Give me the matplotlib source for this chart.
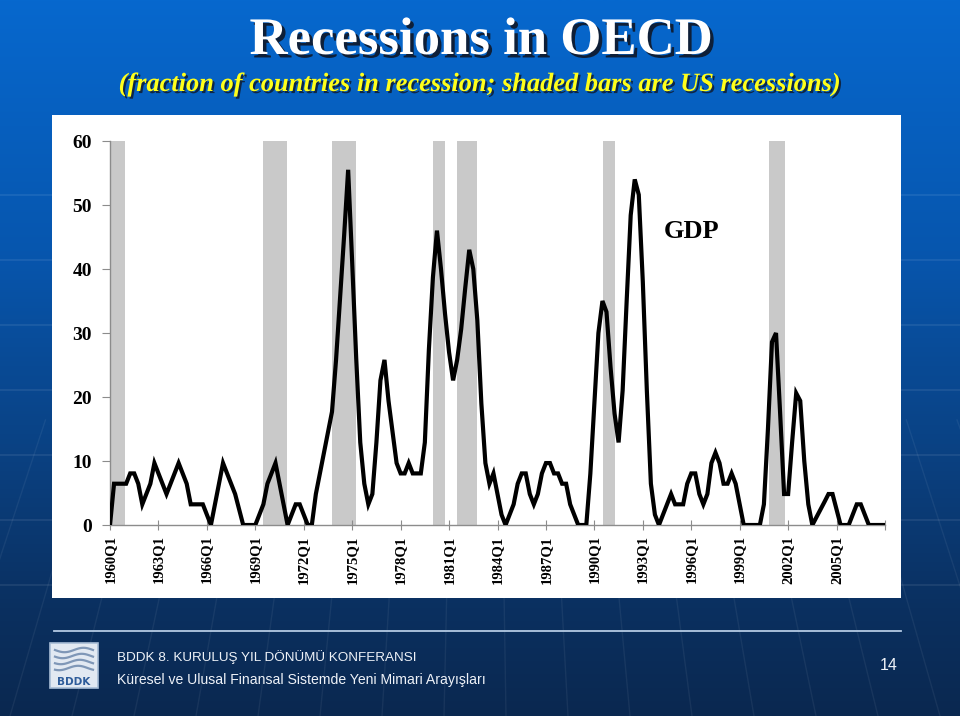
import numpy as np
import matplotlib
matplotlib.use('Agg')
import matplotlib.pyplot as plt
from matplotlib.patches import Rectangle
from matplotlib.colors import LinearSegmentedColormap
import matplotlib.patheffects as pe

# ---------------- data ----------------
start_year = 1960
# fraction (%) of OECD countries in recession, quarterly from 1960Q1 to 2008Q1
gdp = [
    0, 6.45, 6.45, 6.45, 6.45, 8.06, 8.06, 6.45, 3.23, 4.84,
    6.45, 9.68, 8.06, 6.45, 4.84, 6.45, 8.06, 9.68, 8.06, 6.45,
    3.23, 3.23, 3.23, 3.23, 1.61, 0, 3.23, 6.45, 9.68, 8.06,
    6.45, 4.84, 2.42, 0, 0, 0, 0, 1.61, 3.23, 6.45,
    8.06, 9.68, 6.45, 3.23, 0, 1.61, 3.23, 3.23, 1.61, 0,
    0, 4.84, 8.06, 11.3, 14.5, 17.7, 25.8, 35.5, 45.2, 55.5,
    41.0, 26.0, 12.9, 6.45, 3.23, 4.84, 12.9, 22.6, 25.8, 19.4,
    14.5, 9.68, 8.06, 8.06, 9.68, 8.06, 8.06, 8.06, 12.9, 27.4,
    38.7, 46.0, 40.0, 33.0, 27.0, 22.6, 25.8, 30.6, 37.0, 43.0,
    40.0, 32.0, 19.0, 9.68, 6.45, 8.06, 4.84, 1.61, 0, 1.61,
    3.23, 6.45, 8.06, 8.06, 4.84, 3.23, 4.84, 8.06, 9.68, 9.68,
    8.06, 8.06, 6.45, 6.45, 3.23, 1.61, 0, 0, 0, 8.0,
    19.0, 30.0, 35.0, 33.3, 24.7, 17.4, 12.9, 21.0, 35.0, 48.4,
    54.0, 51.6, 38.0, 21.0, 6.45, 1.61, 0, 1.61, 3.23, 4.84,
    3.23, 3.23, 3.23, 6.45, 8.06, 8.06, 4.84, 3.23, 4.84, 9.68,
    11.3, 9.68, 6.45, 6.45, 8.06, 6.45, 3.23, 0, 0, 0,
    0, 0, 3.23, 15.0, 28.6, 30.0, 17.7, 4.84, 4.84, 13.0,
    20.6, 19.4, 10.0, 3.23, 0, 1.2, 2.4, 3.6, 4.84, 4.84,
    2.4, 0, 0, 0, 1.61, 3.23, 3.23, 1.61, 0, 0,
    0, 0, 0,
]
tick_labels = ['1960Q1', '1963Q1', '1966Q1', '1969Q1', '1972Q1', '1975Q1',
               '1978Q1', '1981Q1', '1984Q1', '1987Q1', '1990Q1', '1993Q1',
               '1996Q1', '1999Q1', '2002Q1', '2005Q1', '']
# US recessions (shaded bars), in fractional years
rec_start = [1960.0, 1969.5, 1973.73, 1980.0, 1981.5, 1990.53, 2000.8]
rec_end = [1960.92, 1970.95, 1975.22, 1980.75, 1982.72, 1991.27, 2001.8]

title = 'Recessions in OECD'
subtitle = '(fraction of countries in recession; shaded bars are US recessions)'
footer1 = 'BDDK 8. KURULUŞ YIL DÖNÜMÜ KONFERANSI'
footer2 = 'Küresel ve Ulusal Finansal Sistemde Yeni Mimari Arayışları'
page_no = '14'

# ---------------- figure ----------------
W, H = 960, 716
fig = plt.figure(figsize=(W / 100, H / 100), dpi=100)

bg = fig.add_axes([0, 0, 1, 1], zorder=-5)
bg.set_xlim(0, W)
bg.set_ylim(H, 0)
bg.axis('off')
cmap = LinearSegmentedColormap.from_list(
    'bgc', [(0, '#0668CE'), (0.35, '#0756AE'), (0.62, '#0A4284'),
            (0.85, '#0B3060'), (1, '#0A2850')])
grad = np.linspace(0, 1, 256)[:, None]
bg.imshow(grad, aspect='auto', cmap=cmap, extent=[0, W, H, 0], zorder=0)

# decorative background lines
for yy in [195, 260, 325, 390, 455, 520, 585]:
    bg.plot([0, W], [yy, yy], color='white', alpha=0.09, lw=1.2, zorder=1)
vp = (480, -900)
for xb in np.arange(-300, 1300, 62):
    t0 = (420 - vp[1]) / (H - vp[1])
    bg.plot([vp[0] + (xb - vp[0]) * t0, xb], [420, H], color='white', alpha=0.06,
            lw=1.0, zorder=1)

# white chart panel
bg.add_patch(Rectangle((52, 115), 849, 483, facecolor='white', edgecolor='none', zorder=2))

# footer line
bg.plot([54, 901], [631, 631], color='#B4CAE4', lw=1.3, zorder=2)

# logo
bg.add_patch(Rectangle((50, 643), 48, 45, facecolor='#E2E9F2', edgecolor='#A8BDD6', lw=1.2, zorder=2))
xs = np.linspace(55, 93, 60)
for k, y0 in enumerate([650, 656, 662, 668]):
    bg.plot(xs, y0 + 2.2 * np.sin((xs - 55) / 38 * 2 * np.pi + k * 0.3),
            color='#7F97B7', lw=1.6, zorder=3)
bg.text(74, 682, 'BDDK', ha='center', va='center', fontsize=7.5, fontweight='bold',
        color='#2E5C9A', family='DejaVu Sans', zorder=3)

# titles
shadow = [pe.withSimplePatchShadow(offset=(2.5, -2.5), shadow_rgbFace='#101828', alpha=0.9)]
fig.text(481 / W, 1 - 54 / H, title, ha='center', va='baseline', color='white',
         fontsize=38, fontweight='bold', family='Liberation Serif', path_effects=shadow)
fig.text(480 / W, 1 - 91 / H, subtitle, ha='center', va='baseline', color='#FFFF1A',
         fontsize=19, fontweight='bold', style='italic', family='Liberation Serif',
         path_effects=[pe.withSimplePatchShadow(offset=(1.5, -1.5), shadow_rgbFace='#101828', alpha=0.8)])

# footer texts
fig.text(117 / W, 1 - 657 / H, footer1, ha='left', va='center', color='#EEF2F8',
         fontsize=9.7, family='Liberation Sans')
fig.text(117 / W, 1 - 680 / H, footer2, ha='left', va='center', color='#EEF2F8',
         fontsize=10.1, family='Liberation Sans')
fig.text(898 / W, 1 - 666 / H, page_no, ha='right', va='center', color='#EEF2F8',
         fontsize=11.5, family='Liberation Sans')

# ---------------- chart ----------------
ax = fig.add_axes([110 / W, 1 - 525 / H, 775 / W, 384 / H])
ax.patch.set_visible(False)
x = np.arange(len(gdp))
for s, e in zip(rec_start, rec_end):
    ax.axvspan((s - start_year) * 4, (e - start_year) * 4, color='#C9C9C9', lw=0, zorder=1)
ax.plot(x, gdp, color='black', lw=3.0, zorder=3, solid_joinstyle='miter')

ax.set_xlim(0, len(gdp) - 1)
ax.set_ylim(0, 60)
for sp in ['top', 'right']:
    ax.spines[sp].set_visible(False)
for sp in ['left', 'bottom']:
    ax.spines[sp].set_color('#8C8C8C')
    ax.spines[sp].set_linewidth(1.0)

ax.set_yticks(np.arange(0, 61, 10))
ax.set_yticklabels([str(v) for v in range(0, 61, 10)], fontsize=14, fontweight='bold',
                   family='Liberation Serif')
ax.tick_params(axis='y', direction='out', length=6, color='#8C8C8C', pad=7)

ax.set_xticks(np.arange(0, len(gdp), 12))
ax.set_xticklabels(tick_labels, rotation=90, fontsize=10.5, fontweight='bold',
                   family='Liberation Serif')
ax.tick_params(axis='x', direction='inout', length=7, color='#8C8C8C', pad=4)

ax.text(144, 45.8, 'GDP', ha='center', va='center', fontsize=19, fontweight='bold',
        family='Liberation Serif', zorder=4)

fig.savefig('out.png', dpi=100)
